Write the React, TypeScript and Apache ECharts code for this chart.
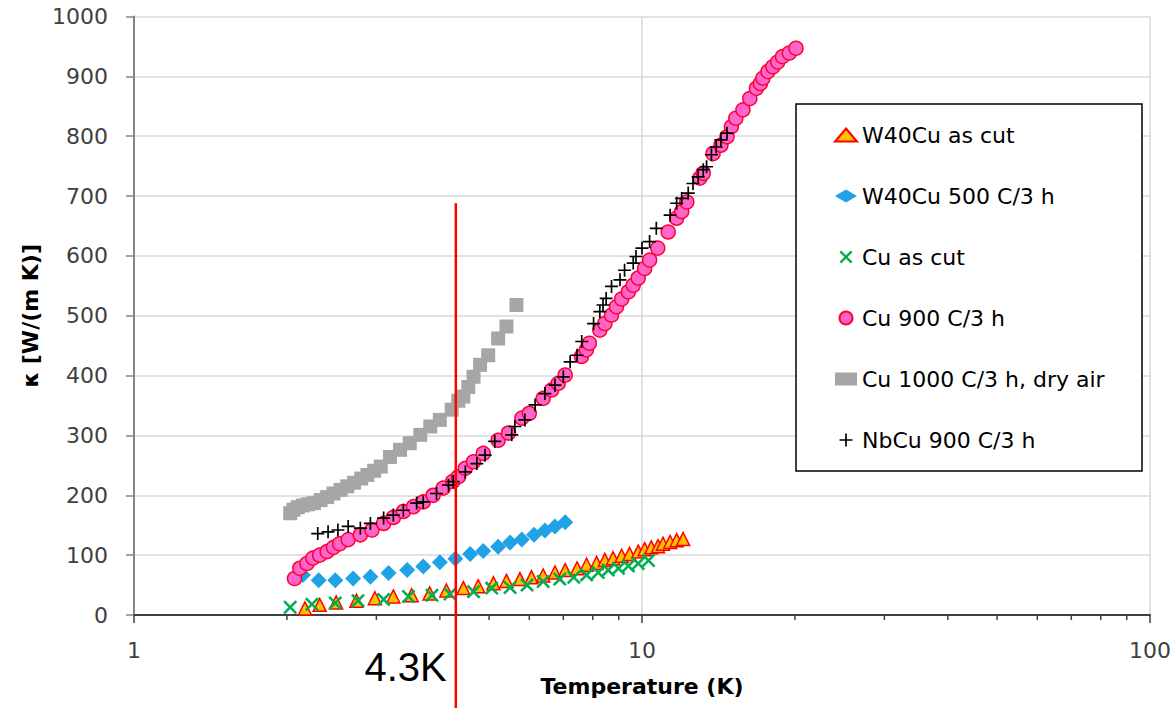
import React, { useEffect, useRef } from "react";
import * as echarts from "echarts";

// ---- data (temperature in K, conductivity in W/(m K)) ----
const w40CutT = [2.17, 2.32, 2.5, 2.74, 2.98, 3.24, 3.52, 3.82, 4.12, 4.45, 4.76, 5.1, 5.41, 5.75, 6.06, 6.39, 6.74, 7.06, 7.45, 7.78, 8.14, 8.45, 8.77, 9.12, 9.45, 9.83, 10.12, 10.43, 10.75, 11.0, 11.36, 11.7, 12.05];
const w40CutK = [11, 17, 21, 24, 28, 31, 33, 36, 41, 45, 48, 53, 57, 60, 63, 66, 71, 75, 78, 84, 87, 92, 95, 99, 102, 106, 110, 113, 115, 119, 122, 125, 127];

const w40AnnT = [2.15, 2.31, 2.49, 2.7, 2.92, 3.17, 3.45, 3.71, 4.0, 4.29, 4.59, 4.87, 5.21, 5.5, 5.8, 6.13, 6.44, 6.74, 7.06];
const w40AnnK = [67, 58, 58, 61, 64, 70, 75, 81, 88, 94, 102, 107, 114, 121, 126, 134, 141, 148, 155];

const cuCutT = [2.03, 2.24, 2.49, 2.76, 3.1, 3.47, 3.86, 4.19, 4.66, 5.06, 5.5, 5.94, 6.39, 6.89, 7.34, 7.78, 8.2, 8.58, 8.99, 9.4, 9.83, 10.3];
const cuCutK = [13, 18, 20, 24, 26, 31, 33, 35, 39, 45, 46, 50, 56, 60, 63, 67, 71, 75, 78, 82, 86, 91];

const cu900T = [2.07, 2.12, 2.19, 2.25, 2.32, 2.4, 2.47, 2.54, 2.64, 2.79, 2.94, 3.1, 3.24, 3.39, 3.55, 3.71, 3.88, 4.06, 4.24, 4.35, 4.49, 4.66, 4.87, 5.21, 5.46, 5.8, 6.0, 6.39, 6.64, 6.84, 7.06, 7.6, 7.77, 7.88, 8.26, 8.45, 8.71, 8.91, 9.12, 9.4, 9.61, 9.83, 10.12, 10.35, 10.74, 11.26, 11.7, 11.97, 12.25, 13.0, 13.2, 13.8, 14.3, 14.7, 15.0, 15.3, 15.8, 16.3, 16.8, 17.1, 17.3, 17.7, 18.1, 18.5, 18.9, 19.5, 20.1];
const cu900K = [61, 78, 86, 95, 100, 106, 113, 119, 126, 134, 142, 153, 163, 173, 181, 189, 200, 212, 223, 231, 245, 256, 270, 292, 304, 329, 337, 362, 376, 387, 401, 432, 443, 454, 476, 487, 501, 515, 528, 540, 551, 563, 579, 593, 613, 640, 663, 674, 690, 730, 738, 771, 785, 799, 816, 830, 844, 863, 880, 888, 897, 908, 916, 924, 933, 939, 947];

const cu1000T = [2.03, 2.06, 2.1, 2.15, 2.2, 2.26, 2.33, 2.4, 2.47, 2.55, 2.63, 2.71, 2.8, 2.88, 2.97, 3.06, 3.19, 3.34, 3.49, 3.66, 3.83, 4.0, 4.22, 4.35, 4.45, 4.55, 4.66, 4.8, 4.98, 5.21, 5.41, 5.66];
const cu1000K = [170, 176, 180, 183, 185, 187, 192, 197, 203, 209, 215, 221, 228, 234, 241, 248, 264, 276, 287, 301, 315, 326, 343, 358, 365, 381, 398, 418, 434, 462, 482, 518];

const nbCuT = [2.3, 2.41, 2.52, 2.64, 2.79, 2.92, 3.1, 3.24, 3.39, 3.6, 3.71, 3.94, 4.16, 4.25, 4.49, 4.73, 4.91, 5.13, 5.54, 5.62, 5.88, 6.16, 6.44, 6.74, 7.0, 7.22, 7.45, 7.61, 8.03, 8.26, 8.38, 8.5, 8.71, 9.05, 9.24, 9.61, 9.73, 10.0, 10.35, 10.67, 11.36, 11.7, 11.97, 12.33, 12.6, 12.9, 13.2, 13.4, 13.7, 14.0, 14.3, 14.7];
const nbCuK = [136, 139, 142, 148, 145, 153, 162, 167, 175, 187, 189, 203, 217, 223, 239, 253, 267, 290, 301, 315, 326, 351, 370, 384, 398, 423, 434, 457, 487, 507, 518, 529, 549, 560, 576, 588, 599, 613, 624, 646, 668, 688, 696, 705, 721, 732, 744, 749, 769, 782, 794, 805];

const seriesNames = ["W40Cu as cut", "W40Cu 500 C/3 h", "Cu as cut", "Cu 900 C/3 h", "Cu 1000 C/3 h, dry air", "NbCu 900 C/3 h"];
const minorTickValues = [2, 3, 4, 5, 6, 7, 8, 9, 20, 30, 40, 50, 60, 70, 80, 90];
const markerT = 4.3;
const markerTopK = 688;
const markerLabel = "4.3K";

const FONT = "DejaVu Sans";
const PLUS = "path://M8.7,0 H11.3 V8.7 H20 V11.3 H11.3 V20 H8.7 V11.3 H0 V8.7 H8.7 Z";
const CROSS = "path://M0,2.6 L2.6,0 L10,7.4 L17.4,0 L20,2.6 L12.6,10 L20,17.4 L17.4,20 L10,12.6 L2.6,20 L0,17.4 L7.4,10 Z";

const pairs = (t: number[], k: number[]) => t.map((v, i) => [v, k[i]]);

export default function App() {
  const ref = useRef<HTMLDivElement>(null);
  useEffect(() => {
    if (!ref.current) return;
    const chart = echarts.init(ref.current, undefined, { renderer: "svg" });
    const option: any = {
      animation: false,
      backgroundColor: "#ffffff",
      grid: { left: 134, right: 24, top: 16.5, bottom: 93 },
      xAxis: {
        type: "log",
        logBase: 10,
        min: 1,
        max: 100,
        name: "Temperature (K)",
        nameLocation: "middle",
        nameGap: 60,
        nameTextStyle: { fontFamily: FONT, fontSize: 22, fontWeight: "bold", color: "#000" },
        axisLine: { show: true, lineStyle: { color: "#404040", width: 2 } },
        axisTick: { show: true, length: 8, lineStyle: { color: "#404040", width: 1.5 } },
        axisLabel: { fontFamily: FONT, fontSize: 22, color: "#404040", margin: 24, formatter: (v: number) => String(v) },
        splitLine: { show: true, lineStyle: { color: "#d9d9d9", width: 1.5 } },
      },
      yAxis: {
        type: "value",
        min: 0,
        max: 1000,
        interval: 100,
        name: "κ [W/(m K)]",
        nameLocation: "middle",
        nameGap: 90,
        nameRotate: 90,
        nameTextStyle: { fontFamily: FONT, fontSize: 22, fontWeight: "bold", color: "#000" },
        axisLine: { show: true, lineStyle: { color: "#868686", width: 2 } },
        axisTick: { show: true, length: 8, lineStyle: { color: "#868686", width: 1.5 } },
        axisLabel: { fontFamily: FONT, fontSize: 22, color: "#404040", margin: 26, formatter: (v: number) => String(v) },
        splitLine: { show: true, lineStyle: { color: "#d9d9d9", width: 1.5 } },
      },
      legend: {
        orient: "vertical",
        left: 834,
        top: 124,
        padding: 0,
        itemWidth: 22,
        itemHeight: 13,
        itemGap: 39,
        textStyle: { fontFamily: FONT, fontSize: 22, color: "#000", lineHeight: 22 },
        data: seriesNames,
      },
      series: [
        {
          name: seriesNames[0],
          type: "scatter",
          data: pairs(w40CutT, w40CutK),
          symbol: "triangle",
          symbolSize: 13,
          itemStyle: { color: "#FFC000", borderColor: "#FF0000", borderWidth: 1.5, opacity: 1 },
        },
        {
          name: seriesNames[1],
          type: "scatter",
          data: pairs(w40AnnT, w40AnnK),
          symbol: "diamond",
          symbolSize: 16,
          itemStyle: { color: "#1FA2E6", opacity: 1 },
        },
        {
          name: seriesNames[2],
          type: "scatter",
          data: pairs(cuCutT, cuCutK),
          symbol: CROSS,
          symbolSize: 14,
          itemStyle: { color: "#00B050", opacity: 1 },
        },
        {
          name: seriesNames[3],
          type: "scatter",
          data: pairs(cu900T, cu900K),
          symbol: "circle",
          symbolSize: 14,
          itemStyle: { color: "#FF66CC", borderColor: "#FF0033", borderWidth: 1.5, opacity: 1 },
        },
        {
          name: seriesNames[4],
          type: "scatter",
          data: pairs(cu1000T, cu1000K),
          symbol: "rect",
          symbolSize: 14,
          itemStyle: { color: "#A6A6A6", opacity: 1 },
        },
        {
          name: seriesNames[5],
          type: "scatter",
          data: pairs(nbCuT, nbCuK),
          symbol: PLUS,
          symbolSize: 13,
          itemStyle: { color: "#000000", opacity: 1 },
        },
      ],
    };
    chart.setOption(option);

    const graphics: any[] = [];
    graphics.push({
      type: "rect",
      z: 3,
      shape: { x: 796, y: 104, width: 346, height: 367 },
      style: { fill: "#ffffff", stroke: "#000000", lineWidth: 1.5 },
    });
    minorTickValues.forEach((t) => {
      const p = chart.convertToPixel({ gridIndex: 0 }, [t, 0]) as number[];
      graphics.push({
        type: "line",
        z: 10,
        shape: { x1: p[0], y1: p[1], x2: p[0], y2: p[1] + 5 },
        style: { stroke: "#404040", lineWidth: 1.5 },
      });
    });
    const top = chart.convertToPixel({ gridIndex: 0 }, [markerT, markerTopK]) as number[];
    graphics.push({
      type: "line",
      z: 20,
      shape: { x1: top[0], y1: top[1], x2: top[0], y2: 708 },
      style: { stroke: "#FF0000", lineWidth: 2.5 },
    });
    graphics.push({
      type: "text",
      z: 20,
      style: {
        text: markerLabel,
        x: top[0] - 9,
        y: 667,
        align: "right",
        verticalAlign: "middle",
        fontFamily: "Liberation Sans",
        fontSize: 40,
        fill: "#000000",
      },
    });
    chart.setOption({ graphic: graphics });

    return () => chart.dispose();
  }, []);
  return (
    <div
      ref={ref}
      style={{ position: "absolute", left: 0, top: 0, width: 1174, height: 708, background: "#fff" }}
    />
  );
}
